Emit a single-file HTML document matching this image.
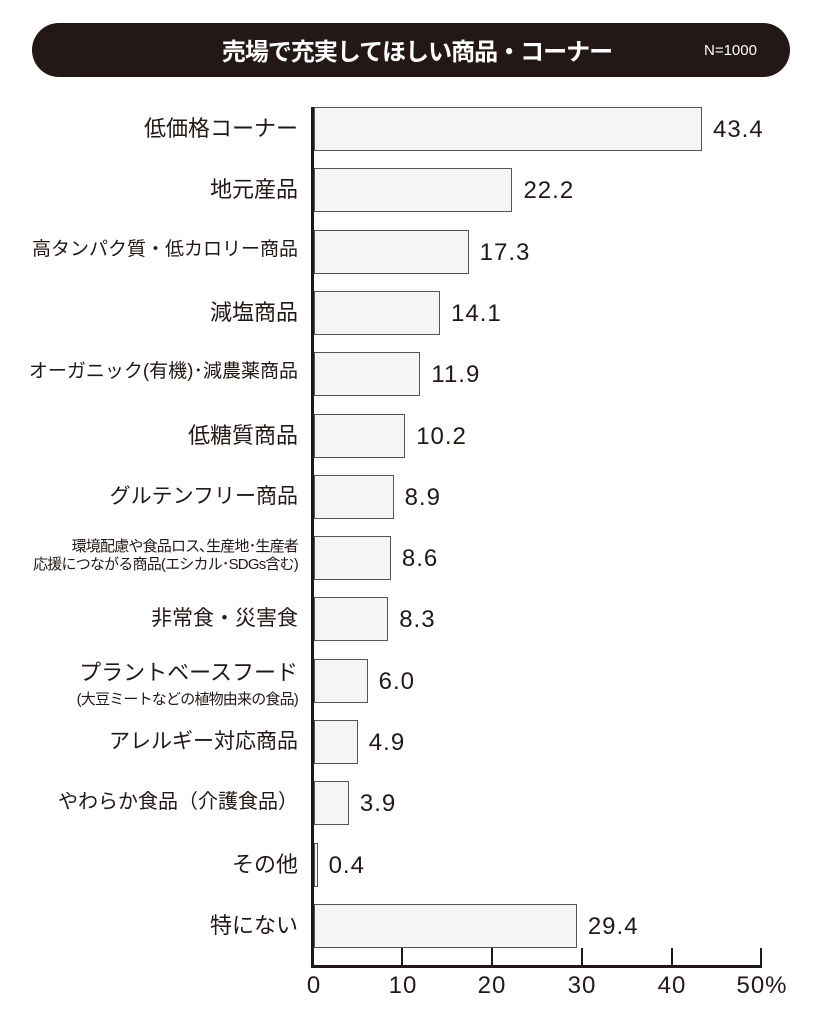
<!DOCTYPE html><html><head><meta charset="utf-8"><style>
body{margin:0;width:820px;height:1014px;background:#fff;position:relative;font-family:"Liberation Sans","Noto Sans CJK JP",sans-serif;color:#231815;overflow:hidden}
.tb{position:absolute;left:32px;top:23px;width:758px;height:54px;background:#231815;border-radius:27px}
.tt{position:absolute;left:0;width:834px;top:32px;text-align:center;font-size:24px;font-weight:bold;color:#fff;letter-spacing:-1px}
.n{position:absolute;left:704px;top:42px;font-size:15px;color:#fff}
.lb{position:absolute;right:522px;font-size:21px;text-align:right;white-space:nowrap;line-height:1.1}
.sm{font-size:15px;letter-spacing:-0.8px}
.bar{position:absolute;left:314px;height:44px;background:#f5f5f5;border:1px solid #555;box-sizing:border-box}
.v{position:absolute;font-size:24px;letter-spacing:1px}
.ax{position:absolute;background:#231815}
.tk{position:absolute;top:972px;font-size:24px;transform:translateX(-50%);letter-spacing:1px}
</style></head><body>
<div class="tb"></div><div class="tt">売場で充実してほしい商品・コーナー</div><div class="n">N=1000</div>
<div id="c"></div>
<div class="ax" style="left:311px;top:107px;width:3px;height:861px"></div>
<div class="ax" style="left:311px;top:965px;width:451px;height:3px"></div>
<div class="ax" style="left:401px;top:948px;width:1.5px;height:18px"></div>
<div class="ax" style="left:491px;top:948px;width:1.5px;height:18px"></div>
<div class="ax" style="left:581px;top:948px;width:1.5px;height:18px"></div>
<div class="ax" style="left:671px;top:948px;width:1.5px;height:18px"></div>
<div class="ax" style="left:760px;top:948px;width:1.5px;height:18px"></div>
<div class="tk" style="left:314px">0</div><div class="tk" style="left:403px">10</div><div class="tk" style="left:492px">20</div><div class="tk" style="left:582px">30</div><div class="tk" style="left:672px">40</div><div class="tk" style="left:762px">50%</div>
<script>
var d=[["低価格コーナー",43.4,22],["地元産品",22.2,22],["高タンパク質・低カロリー商品",17.3,19],["減塩商品",14.1,22],["オーガニック(有機)･減農薬商品",11.9,19],["低糖質商品",10.2,22],["グルテンフリー商品",8.9,21],["<span class='sm'>環境配慮や食品ロス､生産地･生産者<br>応援につながる商品(エシカル･SDGs含む)</span>",8.6,16],["非常食・災害食",8.3,21],["プラントベースフード<br><span class='sm'>(大豆ミートなどの植物由来の食品)</span>",6.0,22],["アレルギー対応商品",4.9,21],["やわらか食品（介護食品）",3.9,20],["その他",0.4,22],["特にない",29.4,22]];
var h="";d.forEach(function(r,i){var t=107+i*61.3,w=r[1]*8.94;var two=r[0].indexOf("<br>")>=0;
h+="<div class='lb' style='font-size:"+r[2]+"px;top:"+(t+(two?2:10))+"px'>"+r[0]+"</div>";
h+="<div class='bar' style='top:"+t+"px;width:"+Math.max(w,3)+"px'></div>";
h+="<div class='v' style='top:"+(t+9)+"px;left:"+(314+w+11)+"px'>"+r[1].toFixed(1)+"</div>";});
document.getElementById("c").innerHTML=h;
</script></body></html>
